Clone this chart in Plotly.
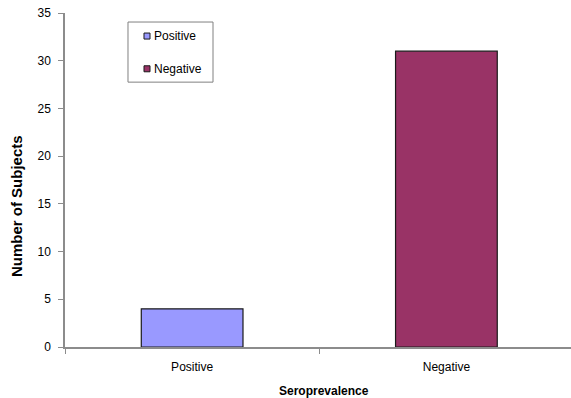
import plotly.graph_objects as go

categories = ["Positive", "Negative"]
subjects = [4, 31]
colors = ["#9999FF", "#993366"]
y_ticks = [0, 5, 10, 15, 20, 25, 30, 35]

font = "Liberation Sans, Arial, sans-serif"

fig = go.Figure()
for cat, val, col in zip(categories, subjects, colors):
    fig.add_trace(go.Bar(
        x=[cat], y=[val], name=cat, width=0.4,
        marker=dict(color=col, line=dict(color="#1a1a1a", width=1.2)),
        showlegend=False,
    ))

# Boxed legend with small square swatches, placed in paper coordinates
legend_box = dict(x0=0.1245, x1=0.2925, y0=0.793, y1=0.973)
swatch_x = (0.1561, 0.1680)
swatch_h = 0.018
item_y = [0.931, 0.833]
shapes = [dict(type="rect", xref="paper", yref="paper", **legend_box,
               line=dict(color="#808080", width=1), fillcolor="white", layer="above")]
annotations = []
for cat, col, yc in zip(categories, colors, item_y):
    shapes.append(dict(type="rect", xref="paper", yref="paper",
                       x0=swatch_x[0], x1=swatch_x[1],
                       y0=yc - swatch_h / 2, y1=yc + swatch_h / 2,
                       fillcolor=col, line=dict(color="#1a1a1a", width=1),
                       layer="above"))
    annotations.append(dict(xref="paper", yref="paper", x=0.1719, y=yc,
                            xanchor="left", yanchor="middle", showarrow=False,
                            text=cat, font=dict(family=font, size=12, color="black")))

# Axis titles
annotations.append(dict(xref="paper", yref="paper", x=-0.0968, y=0.422,
                        xanchor="center", yanchor="middle", showarrow=False,
                        textangle=-90, text="<b>Number of Subjects</b>",
                        font=dict(family=font, size=15, color="black")))
annotations.append(dict(xref="paper", yref="paper", x=0.512, y=-0.1317,
                        xanchor="center", yanchor="middle", showarrow=False,
                        text="<b>Seroprevalence</b>",
                        font=dict(family=font, size=12, color="black")))

fig.update_layout(
    width=571, height=398,
    margin=dict(l=65, r=0, t=13, b=51),
    paper_bgcolor="white", plot_bgcolor="white",
    barmode="overlay",
    font=dict(family=font, size=12, color="black"),
    showlegend=False,
    shapes=shapes,
    annotations=annotations,
    xaxis=dict(
        range=[-0.5, 1.49],
        showline=True, linecolor="#8c8c8c", linewidth=1.5,
        ticks="outside", tickson="boundaries", ticklen=5, tickcolor="#8c8c8c",
        ticklabelstandoff=8,
        showgrid=False, zeroline=False,
    ),
    yaxis=dict(
        range=[0, 35], tickvals=y_ticks,
        showline=True, linecolor="#8c8c8c", linewidth=1.5,
        ticks="outside", ticklen=5, tickcolor="#8c8c8c",
        ticklabelstandoff=5,
        showgrid=False, zeroline=False,
    ),
)

fig.write_html("out.html")
